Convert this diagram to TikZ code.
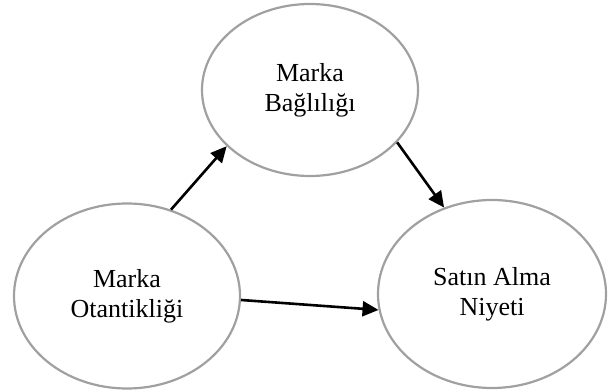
\documentclass[tikz,border=0pt]{standalone}
\usepackage{fontspec}
\setmainfont{Liberation Serif}
\usepackage{tikz}
\usetikzlibrary{shapes,arrows.meta}
\definecolor{ringgray}{RGB}{160,160,160}

\tikzset{
  construct/.style={ellipse, draw=ringgray, line width=2.2pt, inner sep=0pt,
    align=center, font=\fontsize{26}{30}\selectfont},
  path/.style={line width=2.6pt, -{Triangle[length=16pt,width=15pt]}}
}

\begin{document}
\begin{tikzpicture}[x=1pt,y=-1pt]
   \useasboundingbox (0,0) rectangle (608,390);
   % the three constructs
   \node[construct, minimum width=216pt, minimum height=172pt] (bag) at (310,90) {Marka\\Bağlılığı};
   \node[construct, minimum width=226pt, minimum height=185pt] (otan) at (127,296) {Marka\\Otantikliği};
   \node[construct, minimum width=228pt, minimum height=188pt] (niyet) at (492,294) {Satın Alma\\Niyeti};
   % hypothesised paths
   \draw[path] (otan.63) -- (bag.214);
   \draw[path] (bag.-31) -- (niyet.119);
   \draw[path] (otan.-2) -- (niyet.188);
\end{tikzpicture}
\end{document}
